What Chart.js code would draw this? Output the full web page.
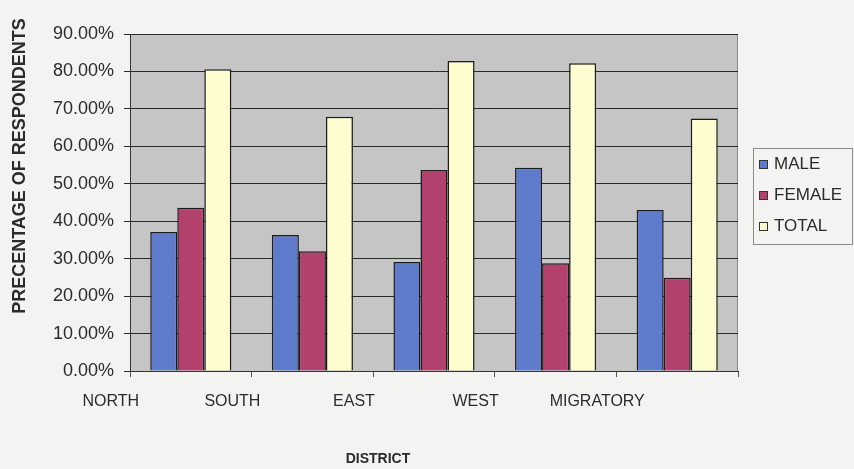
<!DOCTYPE html>
<html>
<head>
<meta charset="utf-8">
<script src="https://cdn.jsdelivr.net/npm/chart.js@4.4.1/dist/chart.umd.min.js"></script>
<style>
  html, body { margin: 0; padding: 0; background: #f3f4f2; }
  canvas { display: block; }
</style>
</head>
<body>
<canvas id="districtChart" width="854" height="469"></canvas>
<script>
// values (share of respondents)
const districts = ['NORTH', 'SOUTH', 'EAST', 'WEST', 'MIGRATORY'];
const male = [0.371, 0.363, 0.291, 0.543, 0.430];
const female = [0.436, 0.320, 0.537, 0.288, 0.249];
const total = [0.806, 0.679, 0.828, 0.822, 0.674];
const seriesNames = ['MALE', 'FEMALE', 'TOTAL'];
const seriesColors = ['#5f7bcb', '#b3416d', '#fdfdcf'];

const textColor = '#2b2b2b';

// grey plot area + border
const plotBg = {
    id: 'plotBg',
    beforeDraw(chart) {
        const a = chart.chartArea, c = chart.ctx;
        c.save();
        c.fillStyle = '#c5c5c6';
        c.fillRect(a.left, a.top, a.right - a.left, a.bottom - a.top);
        c.strokeStyle = '#8a8a8a';
        c.lineWidth = 1;
        c.strokeRect(a.left + 0.5, a.top + 0.5, a.right - a.left - 1, a.bottom - a.top);
        c.restore();
    }
};

// axis titles and boxed legend, like the excel original
const extras = {
    id: 'extras',
    afterDraw(chart) {
        const c = chart.ctx;
        c.save();
        c.fillStyle = textColor;
        c.textAlign = 'center';
        c.textBaseline = 'middle';
        c.font = 'bold 18px "Liberation Sans", Arial, sans-serif';
        c.translate(20, 166);
        c.rotate(-Math.PI / 2);
        c.fillText('PRECENTAGE OF RESPONDENTS', 0, 0);
        c.restore();

        c.save();
        c.fillStyle = textColor;
        c.textAlign = 'center';
        c.textBaseline = 'middle';
        c.font = 'bold 14px "Liberation Sans", Arial, sans-serif';
        c.fillText('DISTRICT', 378, 459);
        c.restore();

        // legend
        c.save();
        c.strokeStyle = '#8c8c8c';
        c.lineWidth = 1;
        c.strokeRect(753.5, 148.5, 99, 96);
        c.font = '17px "Liberation Sans", Arial, sans-serif';
        c.textBaseline = 'middle';
        c.textAlign = 'left';
        chart.data.datasets.forEach((ds, i) => {
            const y = 164 + i * 31;
            c.fillStyle = ds.backgroundColor;
            c.fillRect(759, y - 4, 9, 9);
            c.strokeStyle = '#333';
            c.strokeRect(759.5, y - 3.5, 8, 8);
            c.fillStyle = textColor;
            c.fillText(ds.label, 774, y);
        });
        c.restore();
    }
};

const ctx = document.getElementById('districtChart').getContext('2d');
const chart = new Chart(ctx, {
    type: 'bar',
    data: {
        labels: districts,
        datasets: [
            { label: seriesNames[0], data: male, backgroundColor: seriesColors[0] },
            { label: seriesNames[1], data: female, backgroundColor: seriesColors[1] },
            { label: seriesNames[2], data: total, backgroundColor: seriesColors[2] }
        ].map(d => Object.assign(d, {
            borderColor: '#1c1c1c',
            borderWidth: 1.5,
            categoryPercentage: 0.667,
            barPercentage: 1.0
        }))
    },
    options: {
        responsive: false,
        animation: false,
        layout: { padding: { top: 34, right: 116, left: 0, bottom: 0 } },
        plugins: {
            legend: { display: false },
            tooltip: { enabled: false }
        },
        scales: {
            x: {
                grid: { offset: true, drawOnChartArea: false, tickLength: 6, color: '#555' },
                border: { color: '#333', width: 1 },
                ticks: {
                    color: textColor,
                    padding: 15,
                    labelOffset: -80,
                    font: { family: '"Liberation Sans", Arial, sans-serif', size: 16 }
                },
                afterFit(scale) { scale.height = 98; }
            },
            y: {
                min: 0,
                max: 0.9,
                ticks: {
                    stepSize: 0.1,
                    color: textColor,
                    padding: 10,
                    font: { family: '"Liberation Sans", Arial, sans-serif', size: 18 },
                    callback: v => (v * 100).toFixed(2) + '%'
                },
                grid: { color: '#2a2a2a', lineWidth: 1, tickLength: 6 },
                border: { color: '#333', width: 1 },
                afterFit(scale) { scale.width = 130; }
            }
        }
    },
    plugins: [plotBg, extras]
});
</script>
</body>
</html>
